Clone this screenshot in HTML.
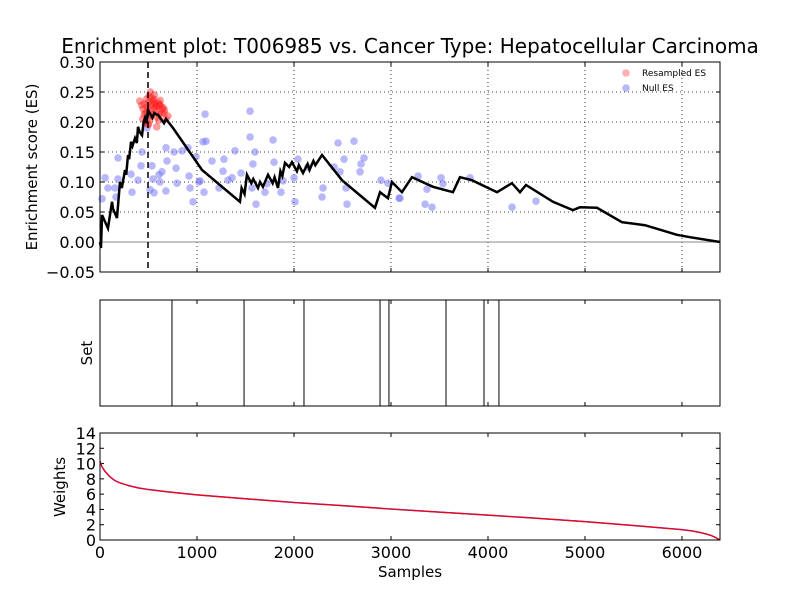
<!DOCTYPE html>
<html><head><meta charset="utf-8"><style>
html,body{margin:0;padding:0;background:#fff;}
svg{display:block;font-family:"DejaVu Sans","Liberation Sans",sans-serif;}
</style></head><body>
<svg id="chart" width="800" height="600" xmlns="http://www.w3.org/2000/svg">
<rect width="800" height="600" fill="#fff"/>
<text x="410" y="53" font-size="20" text-anchor="middle">Enrichment plot: T006985 vs. Cancer Type: Hepatocellular Carcinoma</text>
<g id="gtop"></g>
<g id="gmid"></g>
<g id="gbot"></g>
</svg>
<script>
// ---- data ----
const esSamples=[0,10,21,82,124,135,175,206,225,258,270,289,300,320,335,361,380,392,410,433,450,464,480,495,540,560,588,598,660,680,753,1052,1443,1460,1490,1515,1560,1580,1629,1650,1680,1732,1780,1800,1835,1860,1880,1907,1950,1979,2030,2050,2093,2140,2160,2200,2220,2289,2495,2835,2887,2969,3010,3113,3216,3433,3639,3711,3835,4093,4247,4330,4392,4670,4876,4948,5124,5381,5619,5948,6082,6392];
const esValues=[0,-0.01,0.045,0.023,0.067,0.055,0.04,0.10,0.09,0.12,0.112,0.145,0.138,0.167,0.16,0.173,0.165,0.192,0.183,0.178,0.2,0.207,0.198,0.22,0.207,0.215,0.212,0.212,0.198,0.205,0.19,0.12,0.067,0.09,0.08,0.112,0.098,0.105,0.09,0.1,0.092,0.112,0.098,0.108,0.09,0.118,0.11,0.132,0.125,0.133,0.118,0.128,0.115,0.13,0.12,0.135,0.128,0.145,0.103,0.057,0.083,0.073,0.10,0.083,0.108,0.092,0.083,0.108,0.103,0.083,0.098,0.083,0.095,0.067,0.053,0.058,0.057,0.033,0.028,0.012,0.008,0];
const nullSamples=[21,52,82,155,165,186,186,320,330,392,423,433,485,516,536,546,557,608,619,639,680,680,691,763,784,794,845,907,918,928,959,990,1021,1031,1062,1083,1072,1093,1155,1227,1268,1278,1320,1361,1392,1454,1547,1547,1567,1577,1598,1608,1701,1722,1784,1794,1866,1887,2000,2010,2041,2144,2289,2299,2413,2454,2474,2516,2536,2547,2619,2681,2691,2722,2897,2969,3083,3093,3279,3351,3371,3423,3516,3536,3815,4248,4495];
const nullValues=[.072,.107,.090,.090,.075,.140,.105,.113,.083,.103,.127,.150,.190,.087,.127,.105,.082,.112,.100,.117,.157,.085,.135,.150,.123,.098,.152,.157,.110,.090,.067,.142,.100,.102,.167,.213,.083,.168,.135,.090,.118,.138,.103,.107,.152,.115,.218,.175,.090,.130,.150,.063,.083,.097,.170,.133,.083,.102,.107,.067,.138,.125,.075,.090,.125,.165,.117,.138,.090,.063,.168,.117,.130,.140,.103,.098,.073,.073,.110,.063,.088,.058,.107,.097,.107,.058,.068];
const resSamples=[410,430,445,460,470,480,490,500,505,515,520,530,540,550,560,570,580,590,600,610,620,640,660,680,700,440,470,500,530,560,590,620,650,455,485,515,545,575,605,635,665,495,525,555,585,615];
const resValues=[.235,.228,.222,.230,.215,.238,.225,.232,.243,.220,.250,.228,.213,.235,.222,.230,.218,.226,.232,.213,.228,.222,.215,.205,.21,.205,.200,.196,.240,.245,.208,.236,.224,.212,.218,.205,.232,.226,.203,.215,.22,.197,.21,.238,.192,.229];
const setHits=[742,1485,2103,2887,2979,3567,3959,4113];
const wSamples=[0,20,50,100,150,200,300,400,500,700,1000,1500,2000,2500,3000,3500,4000,4500,5000,5500,6000,6100,6200,6300,6350,6392];
const wValues=[10.3,9.6,9.0,8.3,7.8,7.5,7.1,6.8,6.6,6.3,5.9,5.4,4.9,4.5,4.05,3.65,3.25,2.85,2.4,1.9,1.35,1.2,0.95,0.6,0.3,0];
const xTicks=[0,1000,2000,3000,4000,5000,6000];
const esTicks=[-0.05,0,0.05,0.10,0.15,0.20,0.25,0.30];
const esTickLabels=["\u22120.05","0.00","0.05","0.10","0.15","0.20","0.25","0.30"];
const wTicks=[0,2,4,6,8,10,12,14];
const peakSample=495;
// ---- layout ----
const NS="http://www.w3.org/2000/svg";
const L=100,R=720,XMAX=6392;
const x=s=>L+(s/XMAX)*(R-L);
const yES=v=>242-v*600;
const yW=v=>540-v*(107/14);
function mk(p,t,a){const e=document.createElementNS(NS,t);for(const k in a)e.setAttribute(k,a[k]);p.appendChild(e);return e;}
const gTop=document.getElementById('gtop'),gMid=document.getElementById('gmid'),gBot=document.getElementById('gbot');
xTicks.slice(1).forEach(t=>{const g=mk(gTop,'line',{x1:x(t),x2:x(t),y1:62,y2:272,stroke:'#000','stroke-width':0.8,'stroke-dasharray':'1,3'});

});
esTicks.forEach((t,i)=>{const yy=yES(t);
if(i>0&&i<esTicks.length-1){const g=mk(gTop,'line',{x1:L,x2:R,y1:yy,y2:yy,stroke:'#000','stroke-width':0.8,'stroke-dasharray':'1,3'});

}
mk(gTop,'line',{x1:L,x2:L+4,y1:yy,y2:yy,stroke:'#000'});mk(gTop,'line',{x1:R-4,x2:R,y1:yy,y2:yy,stroke:'#000'});
const tx=mk(gTop,'text',{x:L-5,y:yy+6,'font-size':16,'text-anchor':'end'});tx.textContent=esTickLabels[i];

});
xTicks.forEach(t=>{mk(gTop,'line',{x1:x(t),x2:x(t),y1:272,y2:268,stroke:'#000'});mk(gTop,'line',{x1:x(t),x2:x(t),y1:62,y2:66,stroke:'#000'});});
mk(gTop,'line',{x1:L,x2:R,y1:yES(0),y2:yES(0),stroke:'#888','stroke-width':1});
nullSamples.forEach((s,i)=>{const c=mk(gTop,'circle',{cx:x(s),cy:yES(nullValues[i]),r:3.8,fill:'#6f6ff5','fill-opacity':0.5});

});
resSamples.forEach((s,i)=>{const c=mk(gTop,'circle',{cx:x(s),cy:yES(resValues[i]),r:3.8,fill:'#ff2020','fill-opacity':0.45});

});
const pk=mk(gTop,'line',{x1:x(peakSample),x2:x(peakSample),y1:62,y2:272,stroke:'#000','stroke-width':1.5,'stroke-dasharray':'6,4'});


const es=mk(gTop,'polyline',{points:esSamples.map((s,i)=>x(s)+','+yES(esValues[i])).join(' '),fill:'none',stroke:'#000','stroke-width':2.5});


mk(gTop,'rect',{x:L,y:62,width:R-L,height:210,fill:'none',stroke:'#000','stroke-width':1});
const yl=mk(gTop,'text',{x:37,y:167,'font-size':15,'text-anchor':'middle',transform:'rotate(-90 37 167)'});yl.textContent='Enrichment score (ES)';


const lg=mk(gTop,'g',{});


mk(lg,'circle',{cx:626,cy:73,r:3.8,fill:'#ff2020','fill-opacity':0.35});
mk(lg,'circle',{cx:626,cy:88,r:3.8,fill:'#6f6ff5','fill-opacity':0.5});
const t1=mk(lg,'text',{x:642,y:76,'font-size':9});t1.textContent='Resampled ES';
const t2=mk(lg,'text',{x:642,y:91,'font-size':9});t2.textContent='Null ES';
setHits.forEach(s=>{const l=mk(gMid,'line',{x1:x(s),x2:x(s),y1:300,y2:406,stroke:'#000','stroke-width':1});

});
xTicks.forEach(t=>{mk(gMid,'line',{x1:x(t),x2:x(t),y1:406,y2:402,stroke:'#000'});mk(gMid,'line',{x1:x(t),x2:x(t),y1:300,y2:304,stroke:'#000'});});
mk(gMid,'rect',{x:L,y:300,width:R-L,height:106,fill:'none',stroke:'#000'});
const sl=mk(gMid,'text',{x:92,y:353,'font-size':15,'text-anchor':'middle',transform:'rotate(-90 92 353)'});sl.textContent='Set';


wTicks.forEach(t=>{const yy=yW(t);mk(gBot,'line',{x1:L,x2:L+4,y1:yy,y2:yy,stroke:'#000'});mk(gBot,'line',{x1:R-4,x2:R,y1:yy,y2:yy,stroke:'#000'});
const tx=mk(gBot,'text',{x:L-4,y:yy+6,'font-size':16,'text-anchor':'end'});tx.textContent=t;

});
xTicks.forEach(t=>{mk(gBot,'line',{x1:x(t),x2:x(t),y1:540,y2:536,stroke:'#000'});mk(gBot,'line',{x1:x(t),x2:x(t),y1:433,y2:437,stroke:'#000'});
const tx=mk(gBot,'text',{x:x(t),y:558,'font-size':16,'text-anchor':'middle'});tx.textContent=t;

});
const pts=wSamples.map((s,i)=>x(s)+','+yW(wValues[i])).join(' ');
mk(gBot,'polyline',{points:pts,fill:'none',stroke:'#3030ff','stroke-width':1.5});
const wl=mk(gBot,'polyline',{points:pts,fill:'none',stroke:'#ff0000','stroke-width':1.2});


mk(gBot,'rect',{x:L,y:433,width:R-L,height:107,fill:'none',stroke:'#000'});
const wt=mk(gBot,'text',{x:65,y:487,'font-size':15,'text-anchor':'middle',transform:'rotate(-90 65 487)'});wt.textContent='Weights';


const xt=mk(gBot,'text',{x:410,y:577,'font-size':15,'text-anchor':'middle'});xt.textContent='Samples';


</script>
</body></html>
